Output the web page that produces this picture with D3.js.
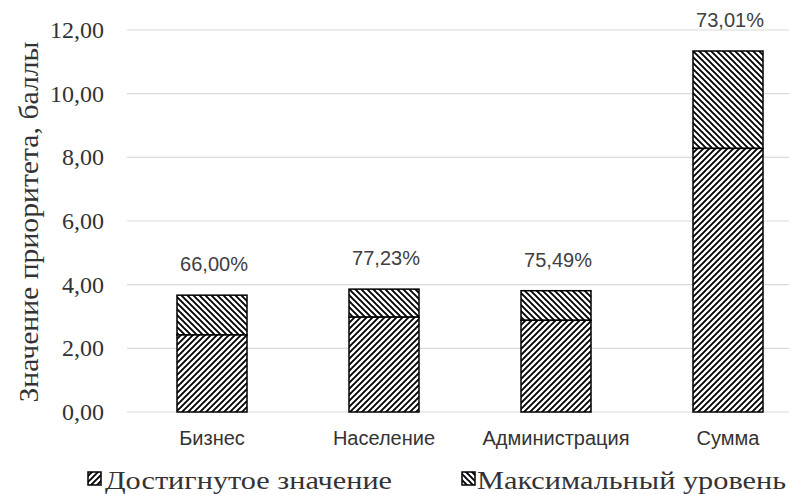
<!DOCTYPE html>
<html>
<head>
<meta charset="utf-8">
<script src="https://cdn.jsdelivr.net/npm/d3@7"></script>
<style>
  body{margin:0;background:#fff;}
  svg{display:block;}
  .serif{font-family:"Liberation Serif","Times New Roman",serif;}
  .sans{font-family:"Liberation Sans",Arial,sans-serif;}
</style>
</head>
<body>
<svg id="chart" width="789" height="494"></svg>
<script>
const categories=["Бизнес","Население","Администрация","Сумма"];
const achieved=[2.42,2.98,2.88,8.28];
const maxLevel=[3.67,3.86,3.81,11.34];
const pctLabels=["66,00%","77,23%","75,49%","73,01%"];
const yTicks=[0,2,4,6,8,10,12];
const seriesNames=["Достигнутое значение","Максимальный уровень"];

const svg=d3.select("#chart");
const width=789, height=494;

const x=d3.scalePoint().domain(categories).range([126,814]).padding(0.5);
const y=d3.scaleLinear().domain([0,12]).range([412,30]);
const barW=70;
const fmt=v=>d3.format(".2f")(v).replace(".",",");

// hatch patterns
const defs=svg.append("defs");
function hatch(id,dir){
  const s=6;
  const p=defs.append("pattern").attr("id",id).attr("patternUnits","userSpaceOnUse")
    .attr("width",s).attr("height",s);
  p.append("rect").attr("width",s).attr("height",s).attr("fill","#fff");
  const d=dir>0
    ? `M0,${s} L${s},0 M-1,1 L1,-1 M${s-1},${s+1} L${s+1},${s-1}`
    : `M0,0 L${s},${s} M-1,${s-1} L1,${s+1} M${s-1},-1 L${s+1},1`;
  p.append("path").attr("d",d).attr("stroke","#000").attr("stroke-width",1.9);
}
hatch("fwd",1);
hatch("back",-1);

// gridlines
svg.append("g").selectAll("line").data(yTicks).join("line")
  .attr("x1",127).attr("x2",width)
  .attr("y1",d=>y(d)).attr("y2",d=>y(d))
  .attr("stroke","#d9d9d9").attr("stroke-width",1.2);

// tick labels
svg.append("g").selectAll("text").data(yTicks).join("text")
  .attr("class","serif")
  .attr("x",104).attr("y",d=>y(d))
  .attr("text-anchor","end").attr("dominant-baseline","central")
  .attr("font-size",24)
  .attr("fill","#333")
  .text(fmt);

// y title
svg.append("text")
  .attr("class","serif")
  .attr("transform","translate(38,222) rotate(-90)")
  .attr("text-anchor","middle")
  .attr("font-size",27)
  .attr("fill","#333")
  .attr("textLength",361).attr("lengthAdjust","spacingAndGlyphs")
  .text("Значение приоритета, баллы");

const data=categories.map((c,i)=>({c,a:achieved[i],m:maxLevel[i],pct:pctLabels[i]}));
const bars=svg.append("g");

// max level (top part)
bars.selectAll("rect.max").data(data).join("rect").attr("class","max")
  .attr("x",d=>x(d.c)-barW/2).attr("width",barW)
  .attr("y",d=>y(d.m)).attr("height",d=>y(d.a)-y(d.m))
  .attr("fill","url(#back)").attr("stroke","#000").attr("stroke-width",1.5);

// achieved (bottom part)
bars.selectAll("rect.ach").data(data).join("rect").attr("class","ach")
  .attr("x",d=>x(d.c)-barW/2).attr("width",barW)
  .attr("y",d=>y(d.a)).attr("height",d=>y(0)-y(d.a))
  .attr("fill","url(#fwd)").attr("stroke","#000").attr("stroke-width",1.5);

// percent labels
svg.append("g").selectAll("text").data(data).join("text")
  .attr("class","sans")
  .attr("x",d=>x(d.c)+2).attr("y",d=>y(d.m)-31)
  .attr("text-anchor","middle").attr("dominant-baseline","central")
  .attr("font-size",20)
  .attr("fill","#404040")
  .text(d=>d.pct);

// category labels
svg.append("g").selectAll("text").data(categories).join("text")
  .attr("class","sans")
  .attr("x",d=>x(d)).attr("y",438)
  .attr("text-anchor","middle").attr("dominant-baseline","central")
  .attr("font-size",20)
  .attr("fill","#333")
  .text(d=>d);

// legend
const legend=[
  {name:seriesNames[0],fill:"url(#fwd)",sx:88,tx:105,tw:287},
  {name:seriesNames[1],fill:"url(#back)",sx:462,tx:477,tw:309}
];
const lg=svg.append("g").selectAll("g").data(legend).join("g");
lg.append("rect")
  .attr("x",d=>d.sx).attr("y",472).attr("width",13).attr("height",13)
  .attr("fill",d=>d.fill).attr("stroke","#000").attr("stroke-width",1.5);
lg.append("text")
  .attr("class","serif")
  .attr("x",d=>d.tx).attr("y",489)
  .attr("font-size",26)
  .attr("fill","#333")
  .attr("textLength",d=>d.tw).attr("lengthAdjust","spacingAndGlyphs")
  .text(d=>d.name);
</script>
</body>
</html>
